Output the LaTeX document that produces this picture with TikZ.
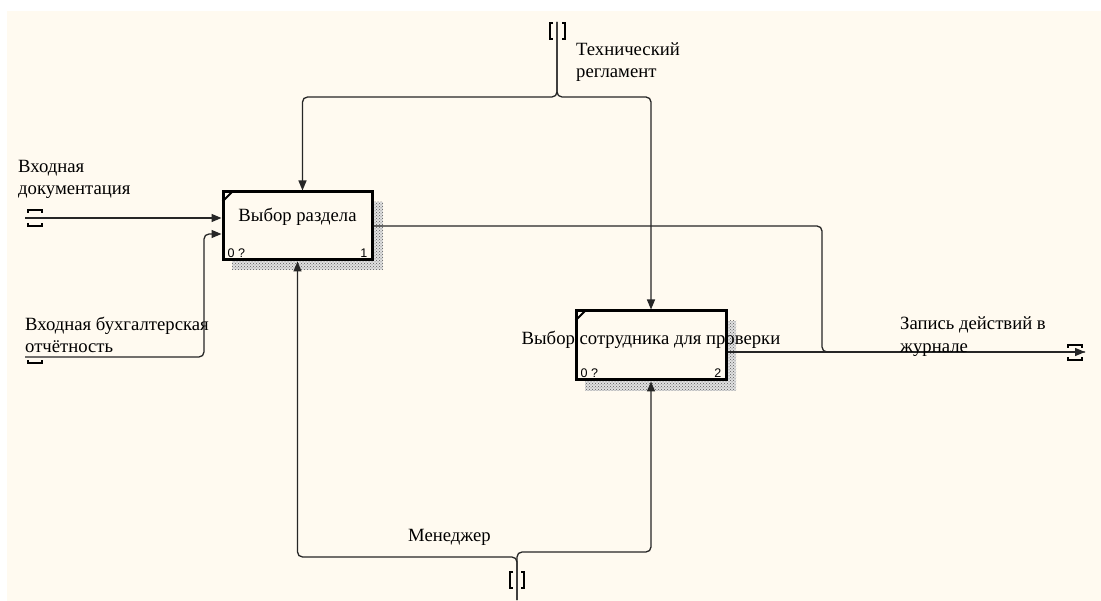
\documentclass[tikz,border=0pt]{standalone}
\usepackage{fontspec}
\setmainfont{Liberation Serif}
\newfontfamily\numfont{Liberation Sans}
\usetikzlibrary{arrows.meta,patterns}
\definecolor{paper}{RGB}{255,250,240}

\begin{document}
\begin{tikzpicture}[x=1pt,y=-1pt,act/.style={draw=black,line width=3pt,fill=paper,minimum width=149pt,minimum height=68pt,inner sep=0pt},flow/.style={draw=black!85,line width=1.3pt,rounded corners=5pt},a/.style={flow,-{Triangle[length=10pt,width=8pt]}},lbl/.style={font=\fontsize{18.7}{22}\selectfont,align=left,anchor=north west,inner sep=0pt},num/.style={font=\numfont\fontsize{12.5}{12.5}\selectfont,inner sep=0pt},brk/.style={draw=black,line width=1.1pt},shade/.style={preaction={fill=black!12},pattern=crosshatch dots,pattern color=black!65}]
\useasboundingbox (0,0) rectangle (1101,601);
\fill[paper] (7,11) rectangle (1101,601);
\fill[shade] (232,202) rectangle (383,270);
\fill[shade] (585,321) rectangle (736,391);
\node[act] (sec) at (297.5,226) {};
\node[act,minimum width=150pt,minimum height=69pt] (chk) at (651,345.5) {};
\node[font=\fontsize{18.7}{20}\selectfont] at ([yshift=9pt]sec.center) {Выбор раздела};
\node[font=\fontsize{18.7}{20}\selectfont] at ([yshift=6pt]chk.center) {Выбор сотрудника для проверки};
\draw[line width=1.8pt] ([shift={(1pt,-11pt)}]sec.north west) -- ([shift={(11pt,-1pt)}]sec.north west);
\draw[line width=1.8pt] ([shift={(1pt,-11pt)}]chk.north west) -- ([shift={(11pt,-1pt)}]chk.north west);
\node[num,anchor=south west] at ([shift={(6pt,4pt)}]sec.south west) {0 ?};
\node[num,anchor=south east] at ([shift={(-6pt,4pt)}]sec.south east) {1};
\node[num,anchor=south west] at ([shift={(6pt,4pt)}]chk.south west) {0 ?};
\node[num,anchor=south east] at ([shift={(-6pt,4pt)}]chk.south east) {2};
\coordinate (in1) at (25,218);
\coordinate (in2) at (25,357);
\coordinate (ctl) at (557,22);
\coordinate (cj) at (557,97);
\coordinate (mch) at (517,600);
\coordinate (out) at (1085,352);
\draw[a] (in1) -- (in1 -| sec.west);
\draw[a] (in2) -- ++(179,0) |- ([yshift=-8pt]sec.west);
\draw[a] (ctl) -- (cj) -| ([xshift=5pt]sec.north);
\draw[a] (ctl) -- (cj) -| (chk.north);
\draw[flow] (sec.east) -- (822,226) |- (out);
\draw[a] (chk.east |- out) -- (out);
\draw[a] (mch) -- (517,557) -| (sec.south);
\draw[a] (mch) -- (517,552) -| (chk.south);
\draw[brk] (28,213) -- (28,210) -- (42,210) -- (42,213);
\draw[brk] (28,223) -- (28,226) -- (42,226) -- (42,223);
\draw[brk] (28,360) -- (28,363) -- (42,363) -- (42,360);
\draw[brk] (553,23) -- (550,23) -- (550,39) -- (553,39);
\draw[brk] (562,23) -- (565,23) -- (565,39) -- (562,39);
\draw[brk] (513,572) -- (510,572) -- (510,588) -- (513,588);
\draw[brk] (521,572) -- (524,572) -- (524,588) -- (521,588);
\draw[brk] (1068,348) -- (1068,345) -- (1082,345) -- (1082,348);
\draw[brk] (1068,357) -- (1068,360) -- (1082,360) -- (1082,357);
\node[lbl] at (18,160) {Входная\\документация};
\node[lbl] at (25,317) {Входная бухгалтерская\\отчётность};
\node[lbl] at (576,43) {Технический\\регламент};
\node[lbl] at (900,317) {Запись действий в\\журнале};
\node[lbl] at (408,529) {Менеджер};
\end{tikzpicture}
\end{document}
